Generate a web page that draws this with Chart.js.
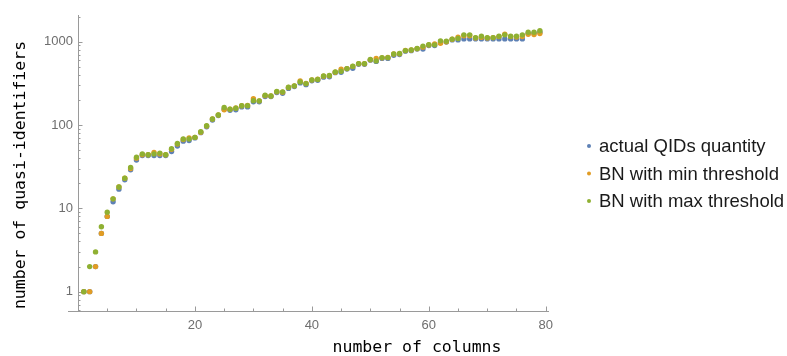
<!DOCTYPE html>
<html><head><meta charset="utf-8">
<script src="https://cdn.jsdelivr.net/npm/chart.js@4/dist/chart.umd.min.js"></script>
<style>html,body{margin:0;padding:0;background:#fff}</style>
</head><body>
<div style="width:787px;height:356px"><canvas id="c" width="787" height="356"></canvas></div>
<script>
const columns = [1,2,3,4,5,6,7,8,9,10,11,12,13,14,15,16,17,18,19,20,21,22,23,24,25,26,27,28,29,30,31,32,33,34,35,36,37,38,39,40,41,42,43,44,45,46,47,48,49,50,51,52,53,54,55,56,57,58,59,60,61,62,63,64,65,66,67,68,69,70,71,72,73,74,75,76,77,78,79];
const actualQIDs = [1,1,2,5,8,12,17,22,29,38,43,43,43,43,43,48,56,64,65,70,81,95,115,130,155,150,152,165,165,190,190,220,220,245,240,275,290,320,305,340,345,375,380,425,430,470,480,535,535,600,580,630,630,685,700,770,780,815,817,900,900,980,990,1050,1050,1080,1080,1080,1080,1080,1080,1080,1080,1080,1080,1080,1250,1260,1300];
const bnMinThreshold = [1,1,2,5,8,13,18,23,30,40,44,44,47,45,44,51,59,67,70,71,82,97,118,132,152,155,160,170,172,207,195,225,223,250,248,282,295,337,315,348,355,385,390,430,466,475,505,545,545,605,630,640,645,710,715,785,795,825,860,915,937,955,1000,1070,1130,1180,1180,1110,1130,1110,1120,1150,1230,1150,1140,1150,1230,1220,1250];
const bnMaxThreshold = [1,2,3,6,9,13,18,23,31,41,45,44,45,46,44,52,60,68,68,71,83,98,118,132,162,155,159,170,170,196,195,228,223,252,250,284,295,329,314,348,351,388,392,434,442,475,508,546,546,610,588,644,644,713,720,782,797,827,885,920,916,1023,1014,1074,1090,1208,1208,1120,1165,1120,1120,1165,1208,1165,1165,1208,1300,1300,1350];
const seriesLabels = ["actual QIDs quantity", "BN with min threshold", "BN with max threshold"];
const seriesColors = ["#5E81B5", "#E19C24", "#8FB032"];
const xTickValues = [20, 40, 60, 80];
const yTickValues = [1, 10, 100, 1000];
const xAxisTitle = "number of columns";
const yAxisTitle = "number of quasi-identifiers";

const seriesValues = [actualQIDs, bnMinThreshold, bnMaxThreshold];
const datasets = seriesValues.map((vals, i) => ({
  label: seriesLabels[i],
  data: columns.map((c, j) => ({x: c, y: vals[j]})),
  backgroundColor: seriesColors[i],
  borderWidth: 0,
  pointRadius: 2.7,
  pointHoverRadius: 2.7,
  order: 3 - i
}));

const AXIS_COLOR = "#9a9a9a";
const decorPlugin = {
  id: "decor",
  beforeDatasetsDraw(chart) {
    const ctx = chart.ctx, xs = chart.scales.x, ys = chart.scales.y, a = chart.chartArea;
    const x0 = xs.getPixelForValue(0);
    ctx.save();
    ctx.strokeStyle = AXIS_COLOR;
    ctx.lineWidth = 1;
    ctx.beginPath();
    ctx.moveTo(a.left - 10, Math.round(a.bottom) + 0.5);
    ctx.lineTo(a.right, Math.round(a.bottom) + 0.5);
    ctx.moveTo(Math.round(x0) + 0.5, a.top);
    ctx.lineTo(Math.round(x0) + 0.5, a.bottom);
    for (let v = 5; v <= xs.max; v += 5) {
      const px = Math.round(xs.getPixelForValue(v)) + 0.5;
      const len = v % 20 === 0 ? 4.5 : 2.5;
      ctx.moveTo(px, a.bottom);
      ctx.lineTo(px, a.bottom - len);
    }
    for (let e = -1; e <= 3; e++) {
      for (let k = 1; k <= 9; k++) {
        const v = k * Math.pow(10, e);
        if (v < ys.min || v > ys.max) continue;
        const py = Math.round(ys.getPixelForValue(v)) + 0.5;
        const len = k === 1 ? 4.5 : 2.5;
        ctx.moveTo(x0, py);
        ctx.lineTo(x0 + len, py);
      }
    }
    ctx.stroke();
    ctx.restore();
  },
  afterDraw(chart) {
    const ctx = chart.ctx;
    ctx.save();
    ctx.fillStyle = "#000";
    ctx.font = '16.5px "DejaVu Sans Mono"';
    ctx.textAlign = "center";
    ctx.textBaseline = "middle";
    ctx.fillText(xAxisTitle, 417, 348);
    ctx.translate(21, 175);
    ctx.rotate(-Math.PI / 2);
    ctx.fillText(yAxisTitle, 0, 0);
    ctx.restore();
    ctx.save();
    ctx.font = '18.5px "Liberation Sans"';
    ctx.textAlign = "left";
    ctx.textBaseline = "middle";
    seriesLabels.forEach((lab, i) => {
      const y = 146 + i * 27.5;
      ctx.fillStyle = seriesColors[i];
      ctx.beginPath();
      ctx.arc(589, y, 2, 0, Math.PI * 2);
      ctx.fill();
      ctx.fillStyle = "#1a1a1a";
      ctx.fillText(lab, 599, y + 1);
    });
    ctx.restore();
  }
};

new Chart(document.getElementById("c"), {
  type: "scatter",
  data: { datasets },
  options: {
    responsive: false,
    animation: false,
    events: [],
    layout: { padding: { left: 0, right: 238, top: 15, bottom: 0 } },
    plugins: { legend: { display: false }, tooltip: { enabled: false } },
    scales: {
      x: {
        type: "linear",
        min: 0,
        max: 80.56,
        grid: { display: false, drawTicks: false },
        border: { display: false },
        afterBuildTicks: s => { s.ticks = xTickValues.map(v => ({ value: v })); },
        afterFit: s => { s.height = 45; },
        ticks: { autoSkip: false, maxRotation: 0, padding: 7, color: "#6e6e6e",
                 font: { family: "Liberation Sans", size: 13 },
                 callback: v => String(v) }
      },
      y: {
        type: "logarithmic",
        min: 0.586,
        max: 2090,
        grid: { display: false, drawTicks: false },
        border: { display: false },
        afterBuildTicks: s => { s.ticks = yTickValues.map(v => ({ value: v })); },
        afterFit: s => { s.width = 78; },
        ticks: { autoSkip: false, padding: 5, color: "#6e6e6e",
                 font: { family: "Liberation Sans", size: 13 },
                 callback: v => String(v) }
      }
    }
  },
  plugins: [decorPlugin]
});
</script>
</body></html>
